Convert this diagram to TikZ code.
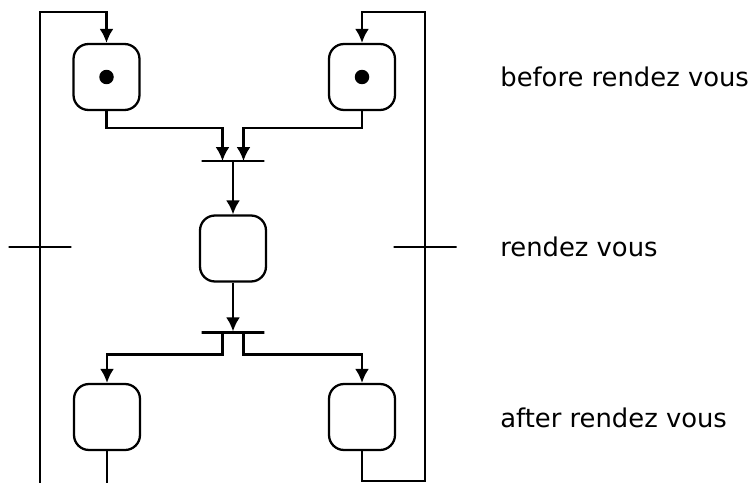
\documentclass[tikz,border=0pt]{standalone}
\usepackage{fontspec}
\setmainfont{DejaVu Sans}
\usepackage{tikz}
\usetikzlibrary{arrows.meta,calc,positioning}

\tikzset{
	place/.style={draw,line width=1.3pt,rounded corners=0.3cm,minimum width=1.32cm,minimum height=1.32cm,inner sep=0pt},
	trans/.style={draw,line width=1.3pt,minimum width=1.26cm,minimum height=0pt,inner sep=0pt},
	token/.style={fill,circle,minimum size=0.29cm,inner sep=0pt},
	arc/.style={line width=1.3pt,-{Latex[length=2.8mm,width=2.8mm]}},
	lbl/.style={anchor=west,inner sep=0pt,font=\fontsize{14.7}{17}\selectfont}
}

\begin{document}
\begin{tikzpicture}[x=0.02cm,y=-0.02cm]
		\useasboundingbox (0,0) rectangle (750,483);
		% places
		\node[place] (pTL) at (106.5,77) {};
		\node[place] (pTR) at (362,77) {};
		\node[place] (pM) at (233,248.5) {};
		\node[place] (pBL) at (107,417) {};
		\node[place] (pBR) at (362,417) {};
		\node[token] at (pTL) {};
		\node[token] at (pTR) {};
		% transitions
		\node[trans] (t1) at (233,161) {};
		\node[trans] (t2) at (233,332.5) {};
		\coordinate (lbot) at (40,483);
		\coordinate (ltop) at (40,12);
		\coordinate (rbot) at (425,481);
		\coordinate (rtop) at (425,12);
		% arcs
		\draw[arc] (lbot) -- (ltop) -| (pTL);
		\draw[arc] (pBR) |- (rbot) -- (rtop) -| (pTR);
		\draw[arc] (pTL) |- ($(t1)+(-10.5,-33)$) -- ($(t1)+(-10.5,0)$);
		\draw[arc] (pTR) |- ($(t1)+(10.5,-33)$) -- ($(t1)+(10.5,0)$);
		\draw[arc] (t1) -- (pM);
		\draw[arc] (pM) -- (t2);
		\draw[arc] ($(t2)+(-10.5,0)$) -- ($(t2)+(-10.5,22)$) -| (pBL);
		\draw[arc] ($(t2)+(10.5,0)$) -- ($(t2)+(10.5,22)$) -| (pBR);
		\draw[line width=1.3pt] (pBL) -- (pBL |- lbot);
		\node[trans] (tl) at (40,247) {};
		\node[trans] (tr) at (425,247) {};
		% labels
		\node[lbl] (before) at (500,77) {before rendez vous};
		\node[lbl] (during) at (500,247) {rendez vous};
		\node[lbl] (after) at (500,418) {after rendez vous};
\end{tikzpicture}
\end{document}
